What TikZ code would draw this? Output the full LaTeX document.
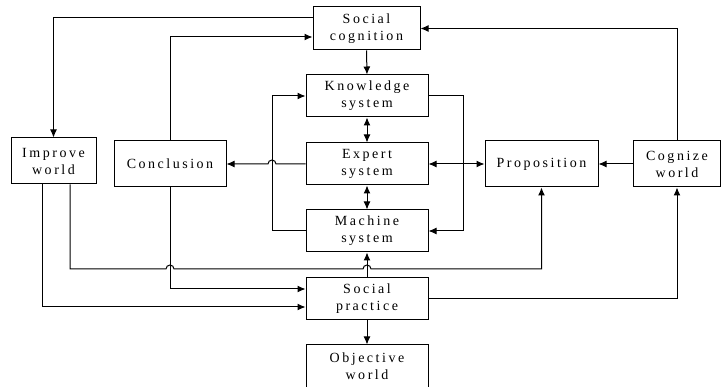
\documentclass[tikz,border=0pt]{standalone}
\usepackage{fontspec}
\setmainfont{Liberation Serif}[LetterSpace=18]
\usetikzlibrary{arrows.meta}
\tikzset{box/.style={draw,align=center,inner sep=0pt,font=\fontsize{14}{17}\selectfont},
 colbox/.style={box,minimum width=122pt,minimum height=42pt},
 sidebox/.style={box,minimum height=46pt},
 arr/.style={-{Latex[length=8pt,width=7pt]}},
 both/.style={{Latex[length=8pt,width=7pt]}-{Latex[length=8pt,width=7pt]}},
 }

\begin{document}
\begin{tikzpicture}[x=1pt,y=-1pt,line width=1pt]
        \useasboundingbox (0,0) rectangle (721,387);
        \node[box,minimum width=107pt,minimum height=43pt] (socog) at (366.5,28.5) {Social\\cognition};
        \node[colbox] (know) at (367,96) {Knowledge\\system};
        \node[colbox] (expert) at (367,164) {Expert\\system};
        \node[colbox] (machine) at (367,231) {Machine\\system};
        \node[colbox] (socpr) at (367,298.5) {Social\\practice};
        \node[colbox,minimum height=43pt] (objw) at (367,366.5) {Objective\\world};
        \node[sidebox,minimum width=85pt] (improve) at (53.5,161) {Improve\\world};
        \node[sidebox,minimum width=112pt] (concl) at (170,164) {Conclusion};
        \node[sidebox,minimum width=113pt] (prop) at (541.5,164) {Proposition};
        \node[sidebox,minimum width=87pt] (cogn) at (677,164) {Cognize\\world};
        \coordinate (lx) at (272,0);
        \coordinate (rx) at (463,0);
        \coordinate (low) at (0,269);
        \draw[arr] ([yshift=10.5pt]socog.west) -| (improve.north);
        \draw[arr] (concl.north) |- ([yshift=-8.5pt]socog.west);
        \draw[arr] (socog.south) -- (know.north);
        \draw[both] (know.south) -- (expert.north);
        \draw[both] (expert.south) -- (machine.north);
        \draw[arr] (expert.west) -- ([xshift=4pt]lx |- expert.west) arc[start angle=0,end angle=180,radius=4pt] -- (concl.east);
        \draw[arr] (machine.west) -| (lx |- know.west) -- (know.west);
        \draw[arr] (know.east) -| (rx |- machine.east) -- (machine.east);
        \draw[both] (expert.east) -- (prop.west);
        \draw[arr] (cogn.west) -- (prop.east);
        \draw[arr] (cogn.north) |- (socog.east);
        \draw[arr] ([xshift=16.5pt]improve.south) |- ([xshift=-4pt]concl.south |- low) arc[start angle=180,end angle=0,radius=4pt]
            -- ([xshift=-4pt]socpr.north |- low) arc[start angle=180,end angle=0,radius=4pt] -| (prop.south);
        \draw[arr] ([xshift=-11.5pt]improve.south) |- ([yshift=-8.5pt]socpr.west);
        \draw[arr] (concl.south) |- ([yshift=9.5pt]socpr.west);
        \draw[arr] (socpr.north) -- (machine.south);
        \draw[arr] (socpr.east) -| (cogn.south);
        \draw[arr] (socpr.south) -- (objw.north);
    \end{tikzpicture}
\end{document}
